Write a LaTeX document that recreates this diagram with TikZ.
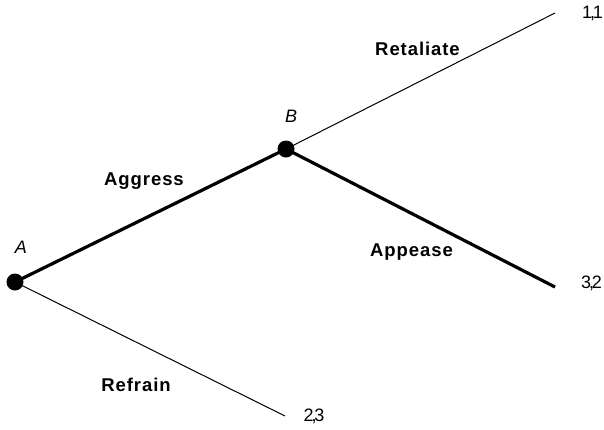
\documentclass[tikz,border=0pt]{standalone}
\usepackage{fontspec}
\setmainfont{Liberation Sans}
\begin{document}
\begin{tikzpicture}[x=1pt,y=-1pt,
  thinedge/.style={line width=1pt},
  thickedge/.style={line width=3.2pt},
  dot/.style={circle,fill=black,inner sep=0pt,minimum size=17pt},
  lbl/.style={anchor=base,inner sep=0pt,font=\fontsize{18.5}{21}\selectfont\bfseries\addfontfeature{LetterSpace=5}},
  pl/.style={anchor=base,inner sep=0pt,font=\fontsize{18}{21}\selectfont\itshape},
  pay/.style={anchor=base,inner sep=0pt,font=\fontsize{18}{21}\selectfont}]
\useasboundingbox (0,0) rectangle (604,429);
\node[dot] (A) at (15,282) {};
\node[dot] (B) at (286,149) {};
\coordinate (R) at (555,13);
\coordinate (P) at (555,287);
\coordinate (F) at (285,416);
\draw[thickedge] (A.center) -- (B.center);
\draw[thickedge] (B.center) -- (P);
\draw[thinedge] (B.center) -- (R);
\draw[thinedge] (A.center) -- (F);
\node[pl] (la) at (21,253) {A};
\node[pl] (lb) at (291,122) {B};
\node[lbl] (lr) at (417.5,55) {Retaliate};
\node[lbl] (lg) at (144,185) {Aggress};
\node[lbl] (lp) at (411.5,256) {Appease};
\node[lbl] (lf) at (136,391) {Refrain};
\node[pay] (p1) at (592.5,18) {1\kern-0.12em,\kern-0.12em1};
\node[pay] (p2) at (591.5,288) {3\kern-0.12em,\kern-0.12em2};
\node[pay] (p3) at (314,421) {2\kern-0.12em,\kern-0.12em3};
\end{tikzpicture}
\end{document}
